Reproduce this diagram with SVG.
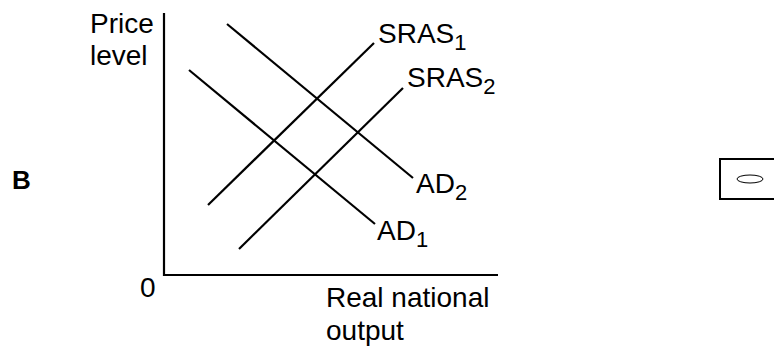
<svg xmlns="http://www.w3.org/2000/svg" width="774" height="347" viewBox="0 0 774 347">
<style>
text{font-family:"Liberation Sans",Arial,sans-serif;font-size:28px;fill:#000}
.sub{font-size:22px}
.ln{stroke:#000;stroke-width:2.2;fill:none;stroke-linecap:butt}
</style>
<rect width="774" height="347" fill="#fff"/>
<text x="12" y="189" style="font-weight:bold;font-size:26px">B</text>
<g id="axes">
<line class="ln" x1="164" y1="13" x2="164" y2="276"/>
<line class="ln" x1="163" y1="275" x2="498" y2="275"/>
<text x="90" y="33">Price</text>
<text x="90" y="65">level</text>
<text x="140" y="297">0</text>
<text x="326" y="307">Real national</text>
<text x="326" y="340">output</text>
</g>
<g id="connectors">
<line id="sras1" class="ln" x1="208" y1="205" x2="374" y2="43"/>
<line id="sras2" class="ln" x1="239" y1="249" x2="403" y2="88"/>
<line id="ad1" class="ln" x1="189" y1="70" x2="375" y2="224"/>
<line id="ad2" class="ln" x1="227" y1="24" x2="413" y2="178"/>
</g>
<g id="label-sras1"><text x="378" y="43">SRAS<tspan class="sub" dy="7">1</tspan></text></g>
<g id="label-sras2"><text x="407" y="87">SRAS<tspan class="sub" dy="7">2</tspan></text></g>
<g id="label-ad2"><text x="416" y="193">AD<tspan class="sub" dy="7">2</tspan></text></g>
<g id="label-ad1"><text x="377" y="240">AD<tspan class="sub" dy="7">1</tspan></text></g>
<g id="answer-box">
<rect x="720" y="159" width="70" height="40" fill="none" stroke="#000" stroke-width="2"/>
<ellipse cx="750" cy="179" rx="13" ry="4" fill="none" stroke="#000" stroke-width="1"/>
</g>
</svg>
